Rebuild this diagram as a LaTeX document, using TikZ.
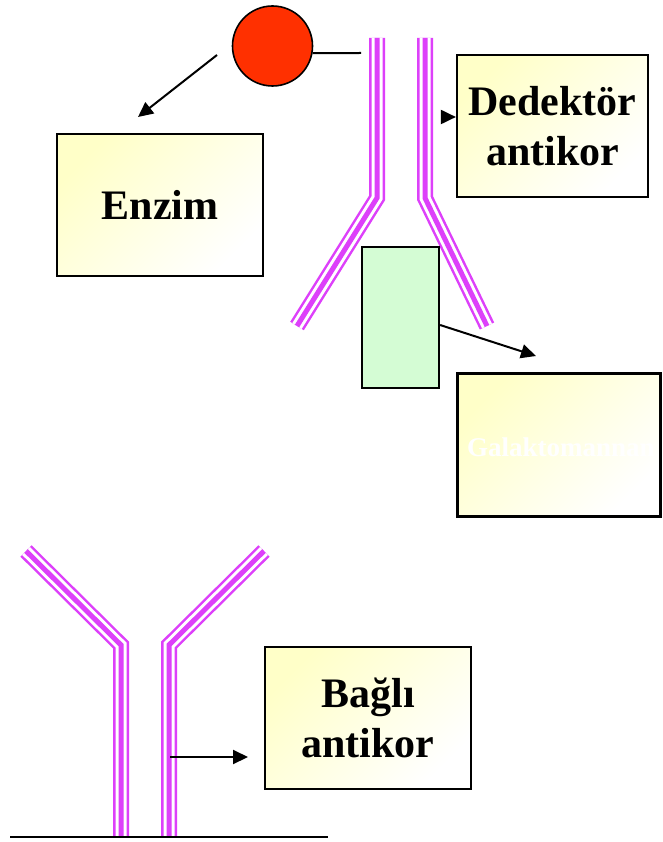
\documentclass[tikz,border=0pt]{standalone}
\usepackage{fontspec}
\setmainfont{Liberation Serif}
\usetikzlibrary{arrows.meta}

\definecolor{abpink}{RGB}{221,64,250}
\definecolor{paleyel}{RGB}{255,255,200}
\definecolor{palegreen}{RGB}{212,252,212}
\definecolor{enzred}{RGB}{255,48,0}

\begin{document}
\begin{tikzpicture}[x=1pt,y=-1pt,
  boxline/.style={draw=black, line width=2.2pt},
  labelbox/.style={boxline, rectangle, inner sep=0pt,
    left color=paleyel, right color=white, shading angle=45,
    font=\bfseries\fontsize{42}{50}\selectfont, align=center},
  strand/.style={draw=abpink, line width=16pt,
    postaction={draw=white, line width=11pt},
    postaction={draw=abpink, line width=5pt}},
  arr/.style={draw=black, line width=2pt, -{Triangle[length=15pt,width=14pt]}},
  plain/.style={draw=black, line width=2pt}]

\useasboundingbox (0,0) rectangle (662,842);

% upper (detector) antibody
\draw[strand] (377,38) -- (377,198) -- (297,326);
\draw[strand] (425,38) -- (425,198) -- (487,326);

% lower (bound) antibody
\draw[strand] (121,837) -- (121,645) -- (26,551);
\draw[strand] (169,837) -- (169,645) -- (264,551);
\draw[plain] (10,837) coordinate (baseL) -- (328,837) coordinate (baseR);

% enzyme label
\node[circle, draw=black, line width=1.6pt, fill=enzred, minimum size=80pt,
      inner sep=0pt] (enz) at (272.5,46) {};
\coordinate (link) at (361,53);
\draw[plain] (enz.-10) -- (link);

% boxes
\node[labelbox, minimum width=206pt, minimum height=142pt] (enzim) at (160,205) {Enzim};
\node[labelbox, minimum width=191pt, minimum height=142pt] (ded) at (552.5,126) {Dedektör\\antikor};
\node[labelbox, minimum width=202pt, minimum height=142pt] (gal) at (559,445) {};
\node[font=\bfseries\fontsize{27}{32}\selectfont, text=white, anchor=base west,
      inner sep=0pt] (galtxt) at (467,456) {Galaktomannan};
\draw[boxline] (gal.north west) rectangle (gal.south east);
\node[labelbox, minimum width=206pt, minimum height=142pt] (bagli) at (368,718) {Bağlı\\antikor};
\node[rectangle, boxline, fill=palegreen, minimum width=77pt, minimum height=141pt]
      (ag) at (400.5,317.5) {};

% pointers
\coordinate (eA) at (217,55);
\coordinate (eB) at (138,117);
\draw[arr] (eA) -- (eB);

\coordinate (dA) at (441,117);
\draw[arr] (dA) -- (dA -| ded.west);

\coordinate (gA) at (ag.east |- 0,325);
\coordinate (gB) at (536,356);
\draw[arr] (gA) -- (gB);

\coordinate (bA) at (170,757);
\draw[arr] (bA) -- (bA -| 248,0);
\end{tikzpicture}
\end{document}
